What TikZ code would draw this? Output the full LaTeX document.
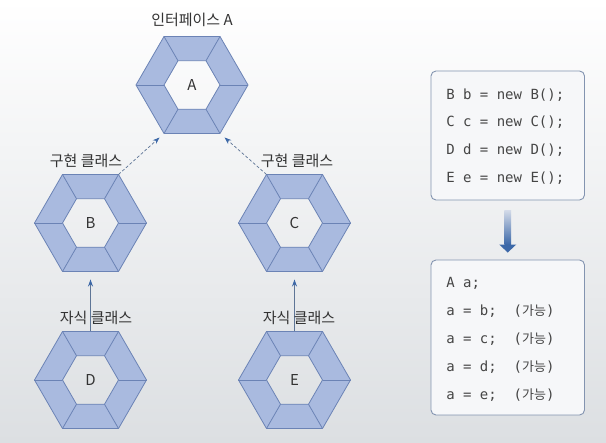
\documentclass[tikz,border=0pt]{standalone}
\usepackage{fontspec}
\setmainfont{Noto Sans CJK KR}
\newfontfamily\codefont{DejaVu Sans Mono}
\newfontfamily\krfont{Noto Sans CJK KR}
\usetikzlibrary{shapes.geometric,arrows.meta,calc}

\definecolor{bgbot}{HTML}{DCDFE2}
\definecolor{hexfill}{HTML}{A9BADF}
\definecolor{hexline}{HTML}{6B83B5}
\definecolor{txtgray}{HTML}{333333}
\definecolor{codegray}{HTML}{454545}
\definecolor{arrowblue}{HTML}{3C68A8}
\definecolor{arrowline}{HTML}{5E7596}
\definecolor{shaftlight}{HTML}{D2DAE8}
\definecolor{boxline}{HTML}{8394B0}
\definecolor{boxfill}{HTML}{F6F7F9}

\tikzset{
  hexout/.style={regular polygon, regular polygon sides=6, minimum size=112pt,
    inner sep=0pt, outer sep=0pt},
  hexin/.style={regular polygon, regular polygon sides=6, minimum size=56pt,
    inner sep=0pt, outer sep=0pt, font=\fontsize{15}{15}\selectfont, text=txtgray},
  hexedge/.style={draw=hexline, line width=0.8pt, line join=round},
  lbl/.style={font=\fontsize{15}{16}\selectfont, text=txtgray, inner sep=1pt},
  implarrow/.style={draw=arrowline, line width=0.7pt, dash pattern=on 3pt off 2pt,
    -{Stealth[length=7pt,width=5pt,color=arrowblue]}, shorten >=6pt},
  extarrow/.style={draw=arrowline, line width=0.8pt,
    -{Stealth[length=7pt,width=5pt,color=arrowblue]}, shorten >=8pt},
  codebox/.style={draw=boxline, fill=boxfill, line width=0.9pt, rounded corners=5pt,
    minimum width=153.5pt, inner sep=0pt},
  codeline/.style={anchor=base west, inner sep=0pt, text=codegray,
    font=\codefont\fontsize{14}{16}\selectfont}
}

% ring of one hexagon: outer node #1, inner node #1in
\newcommand{\hexring}[1]{%
  \fill[hexfill, even odd rule] (#1.0) -- (#1.60) -- (#1.120) -- (#1.180) -- (#1.240) -- (#1.300) -- cycle
    (#1in.0) -- (#1in.60) -- (#1in.120) -- (#1in.180) -- (#1in.240) -- (#1in.300) -- cycle;
  \foreach \ang in {0,60,...,300} \draw[hexedge] (#1.\ang) -- (#1in.\ang);
  \draw[hexedge] (#1.0) -- (#1.60) -- (#1.120) -- (#1.180) -- (#1.240) -- (#1.300) -- cycle;
  \draw[hexedge] (#1in.0) -- (#1in.60) -- (#1in.120) -- (#1in.180) -- (#1in.240) -- (#1in.300) -- cycle;
}
\newcommand{\kr}[1]{{\krfont\fontsize{13}{13}\selectfont #1}}

\begin{document}
\begin{tikzpicture}[x=1pt, y=1pt]
	% background
	\shade[top color=white, bottom color=bgbot] (0,0) rectangle (606,443);
	\useasboundingbox (0,0) rectangle (606,443);

	% hexagons
	\node[hexout] (A) at (192,358) {};
	\node[hexin] (Ain) at (192,358) {};
	\node[hexout] (B) at (90.5,220) {};
	\node[hexin] (Bin) at (90.5,220) {};
	\node[hexout] (C) at (294.5,220) {};
	\node[hexin] (Cin) at (294.5,220) {};
	\node[hexout] (D) at (90.5,63) {};
	\node[hexin] (Din) at (90.5,63) {};
	\node[hexout] (E) at (294.5,63) {};
	\node[hexin] (Ein) at (294.5,63) {};
	\hexring{A}
	\hexring{B}
	\hexring{C}
	\hexring{D}
	\hexring{E}
	\node[hexin] at (Ain) {A};
	\node[hexin] at (Bin) {B};
	\node[hexin] at (Cin) {C};
	\node[hexin] at (Din) {D};
	\node[hexin] at (Ein) {E};

	% arrows
	\draw[implarrow] (B.60) -- (A.240);
	\draw[implarrow] (C.120) -- (A.300);
	\draw[extarrow] (D.north) -- (B.south);
	\draw[extarrow] (E.north) -- (C.south);

	% labels
	\node[lbl] (labA) at (192,423) {인터페이스 A};
	\node[lbl] (labB) at (86,282) {구현 클래스};
	\node[lbl] (labC) at (297,282) {구현 클래스};
	\node[lbl] (labD) at (96,125) {자식 클래스};
	\node[lbl] (labE) at (299,125) {자식 클래스};

	% code boxes
	\node[codebox, minimum height=129pt] (decl) at (507.75,307.5) {};
	\node[codebox, minimum height=155pt] (assign) at (507.75,105.5) {};
	\foreach \code [count=\i] in {B b = new B();,C c = new C();,D d = new D();,E e = new E();}
		\node[codeline] (decl\i) at ($(decl.north west)+(15.5,{-28.5-27.7*(\i-1)})$) {\code};
	\foreach \code [count=\i] in {A a;,a = b;\ \ (\kr{가능}),a = c;\ \ (\kr{가능}),a = d;\ \ (\kr{가능}),a = e;\ \ (\kr{가능})}
		\node[codeline] (assign\i) at ($(assign.north west)+(15.5,{-27.5-28*(\i-1)})$) {\code};

	% big arrow between boxes
	\coordinate (gtop) at ($(decl.south)+(0,-10)$);
	\coordinate (gtip) at ($(assign.north)+(0,7)$);
	\shade[top color=shaftlight, bottom color=arrowblue] ($(gtop)+(-3.3,0)$) rectangle ($(gtip)+(3.3,8)$);
	\fill[arrowblue] ($(gtip)+(-8.5,8)$) -- ($(gtip)+(8.5,8)$) -- (gtip) -- cycle;
\end{tikzpicture}
\end{document}
